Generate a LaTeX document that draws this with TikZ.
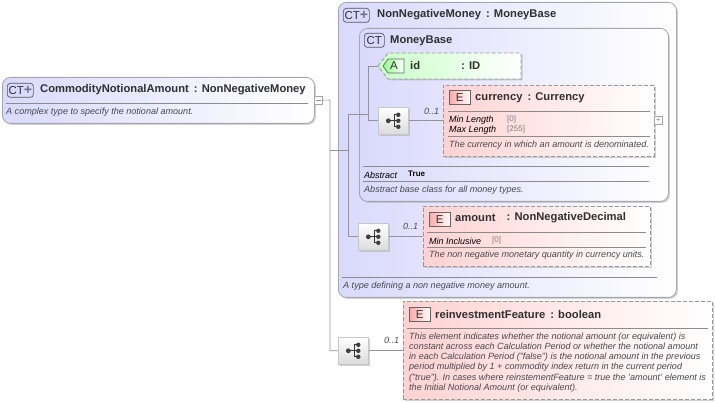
\documentclass[tikz,border=0pt]{standalone}
\usepackage{fontspec}
\setmainfont{Liberation Sans}
\usetikzlibrary{shadows}
\definecolor{ctfill}{HTML}{D9D9FD}
\definecolor{ctedge}{HTML}{A6A6AE}
\definecolor{efill}{HTML}{FFD2D2}
\definecolor{afill}{HTML}{C8FFC8}
\definecolor{txtdark}{HTML}{303030}
\definecolor{txtnote}{HTML}{484850}
\definecolor{plusgray}{HTML}{6E7488}
\begin{document}
\begin{tikzpicture}[x=1pt,y=-1pt]
\tikzset{
  boxshadow/.style={drop shadow={shadow xshift=1.5pt,shadow yshift=-1.5pt,fill=black!35,opacity=0.5}},
  ctbox/.style={draw=ctedge,line width=0.8pt,rounded corners=8pt,anchor=north west,inner sep=0pt,
    left color=ctfill,right color=white,boxshadow},
  elbox/.style={draw=black!40,dash pattern=on 4pt off 2pt,line width=0.8pt,anchor=north west,inner sep=0pt,
    left color=efill,right color=white,boxshadow},
  seqbox/.style={draw=black!22,line width=0.6pt,anchor=north west,inner sep=0pt,minimum width=30pt,minimum height=27pt,
    top color=white,bottom color=black!14,boxshadow},
  ctbadge/.style={draw=black!65,line width=0.7pt,rounded corners=3pt,fill=ctfill,text=txtdark,
    minimum height=14pt,inner sep=0pt,anchor=north west,font=\fontsize{11.5}{11}\selectfont},
  ebadge/.style={draw=black!60,line width=0.6pt,left color=efill!80!red,right color=white,text=txtdark,
    minimum width=21pt,minimum height=14pt,inner sep=0pt,anchor=north west,font=\fontsize{11.5}{11}\selectfont},
  title/.style={anchor=west,inner sep=0pt,text=txtdark,font=\fontsize{11.2}{11}\selectfont\bfseries},
  note/.style={anchor=west,inner sep=0pt,text=txtnote,font=\fontsize{9.05}{10}\selectfont\itshape},
  facet/.style={anchor=west,inner sep=0pt,text=black,font=\fontsize{9}{10}\selectfont\itshape},
  facetval/.style={anchor=west,inner sep=0pt,text=black!50,font=\fontsize{8}{10}\selectfont},
  occurs/.style={anchor=west,inner sep=0pt,text=black!70,font=\fontsize{9}{10}\selectfont\itshape},
  btn/.style={draw=black!35,fill=white,line width=0.5pt,minimum size=8pt,inner sep=0pt,anchor=north west,text=black!45,
    font=\fontsize{8}{8}\selectfont},
  link/.style={draw=black!42,line width=0.6pt},
  rule/.style={draw=black!45,line width=0.6pt}
}
\useasboundingbox (0,0) rectangle (715,403);

% the outer boxes
\node [ctbox,minimum width=312pt,minimum height=46pt] (root) at (2,77) {};
\node [ctbox,minimum width=338pt,minimum height=295pt] (money) at (338,2) {};
\node [ctbox,minimum width=309pt,minimum height=173pt] (base) at (359,28) {};

% the element boxes
\path [draw=black!40,dash pattern=on 4pt off 2pt,line width=0.8pt,left color=afill,right color=white,boxshadow]
  (378,66) -- (388,53) -- (521,53) -- (521,79) -- (388,79) -- cycle;
\coordinate (idbox) at (378,66);
\node [elbox,minimum width=211pt,minimum height=71pt] (currency) at (443,85) {};
\node [elbox,minimum width=227pt,minimum height=60pt] (amount) at (423,206) {};
\node [elbox,minimum width=309pt,minimum height=98pt] (reinvest) at (403,301) {};

% the sequence boxes
\node [seqbox] (seqa) at (378,107) {};
\node [seqbox] (seqb) at (358,223) {};
\node [seqbox] (seqc) at (338,337) {};

% the buttons
\node [btn] (rootbtn) at (314,96) {};
\draw [black!45,line width=0.6pt] ([xshift=-2.5pt]rootbtn.center) -- ([xshift=2.5pt]rootbtn.center);
\node [btn] (curbtn) at (654,116) {+};

% the connectors
\coordinate (jroot) at (330,100);
\coordinate (jmoney) at (348,150);
\coordinate (jbase) at (368,114);
\draw [link] (rootbtn.east) -- (jroot) |- (seqc.west);
\draw [link] (jroot |- jmoney) -- (jmoney);
\draw [link] (jmoney |- jbase) -- (jbase);
\draw [link] (jmoney |- jbase) |- (seqb.west);
\draw [link] (jbase) |- (idbox);
\draw [link] (jbase) |- (seqa.west);
\draw [link] (seqa.east) -- (seqa.east -| currency.west);
\draw [link] (seqb.east) -- (seqb.east -| amount.west);
\draw [link] (seqc.east) -- (seqc.east -| reinvest.west);

% the sequence icons
\foreach \n in {seqa,seqb,seqc} {
\draw [black!80,line width=0.9pt] ([xshift=-4.5pt]\n.center) -- ([xshift=1pt]\n.center);
\draw [black!80,line width=0.9pt] ([shift={(1pt,-6pt)}]\n.center) -- ([shift={(1pt,6pt)}]\n.center);
\fill [black!75] ([xshift=-5pt]\n.center) circle (2.4);
\foreach \y in {-6,0,6} {
\draw [black!80,line width=0.9pt] ([xshift=1pt,yshift=\y pt]\n.center) -- ([xshift=5pt,yshift=\y pt]\n.center);
\fill [black!75] ([xshift=5pt,yshift=\y pt]\n.center) circle (2.2);
}
}

% the badges
\node [ctbadge,minimum width=26pt] (rootbadge) at (7,83) {CT\textcolor{plusgray}{\fontsize{14}{11}\selectfont\bfseries +}};
\node [ctbadge,minimum width=26pt] (moneybadge) at (343,8) {CT\textcolor{plusgray}{\fontsize{14}{11}\selectfont\bfseries +}};
\node [ctbadge,minimum width=20pt] (basebadge) at (364,33) {CT};
\path [draw=black!60,line width=0.7pt,left color=afill!70!green,right color=white] (383,66) -- (388,59) -- (404,59) -- (404,73) -- (388,73) -- cycle;
\node [anchor=center,inner sep=0pt,text=txtdark,font=\fontsize{11.5}{11}\selectfont] (idbadge) at (394,66) {A};
\node [ebadge] (curbadge) at (449,90) {E};
\node [ebadge] (amtbadge) at (429,212) {E};
\node [ebadge] (reibadge) at (409,307) {E};

% the titles
\node [title] (roottitle) at (40,89.5) {CommodityNotionalAmount\hspace{5pt}: NonNegativeMoney};
\node [title] (moneytitle) at (377,15) {NonNegativeMoney\hspace{5pt}: MoneyBase};
\node [title] (basetitle) at (390,41) {MoneyBase};
\node [title] (idname) at (410,65.5) {id};
\node [title] (idtype) at (461,65.5) {: ID};
\node [title] (curtitle) at (475,98) {currency\hspace{5pt}: Currency};
\node [title] (amttitle) at (455,218) {amount};
\node [title] (amttype) at (506.5,218) {: NonNegativeDecimal};
\node [title] (reititle) at (435,314.5) {reinvestmentFeature\hspace{5pt}: boolean};

% the rules
\foreach \xa/\xb/\y in {6/308/103,448/650/111,448/650/136,363/649/166,363/649/181,427/646/232,427/646/247,342/657/277,407/708/328} {
\draw [rule] (\xa,\y) -- (\xb,\y);
}

% the facets
\node [facet] (minlen) at (449,120) {Min Length};
\node [facetval] (minval) at (507,119) {[0]};
\node [facet] (maxlen) at (449,130) {Max Length};
\node [facetval] (maxval) at (507,129) {[255]};
\node [facet] (abstract) at (364,175) {Abstract};
\node [anchor=west,inner sep=0pt,text=black,font=\fontsize{8}{10}\selectfont\bfseries] (abstractval) at (408,174) {True};
\node [facet] (mininc) at (429,241) {Min Inclusive};
\node [facetval] (incval) at (492,240) {[0]};

% the notes
\node [note] (rootnote) at (6,112) {A complex type to specify the notional amount.};
\node [note] (curnote) at (449,145) {The currency in which an amount is denominated.};
\node [note] (basenote) at (364,190) {Abstract base class for all money types.};
\node [note] (amtnote) at (429,255) {The non negative monetary quantity in currency units.};
\node [note] (moneynote) at (343,286) {A type defining a non negative money amount.};
\node [note,anchor=north west,align=left,font=\fontsize{9.05}{10.2}\selectfont\itshape] (reinote) at (409,332.5) {This element indicates whether the notional amount (or equivalent) is\\
constant across each Calculation Period or whether the notional amount\\
in each Calculation Period ("false") is the notional amount in the previous\\
period multiplied by 1 + commodity index return in the current period\\
("true"). In cases where reinstementFeature = true the 'amount' element is\\
the Initial Notional Amount (or equivalent).};

% the occurrences
\node [occurs] (occa) at (424,111) {0..1};
\node [occurs] (occb) at (403,226) {0..1};
\node [occurs] (occc) at (384,340) {0..1};
\end{tikzpicture}
\end{document}
